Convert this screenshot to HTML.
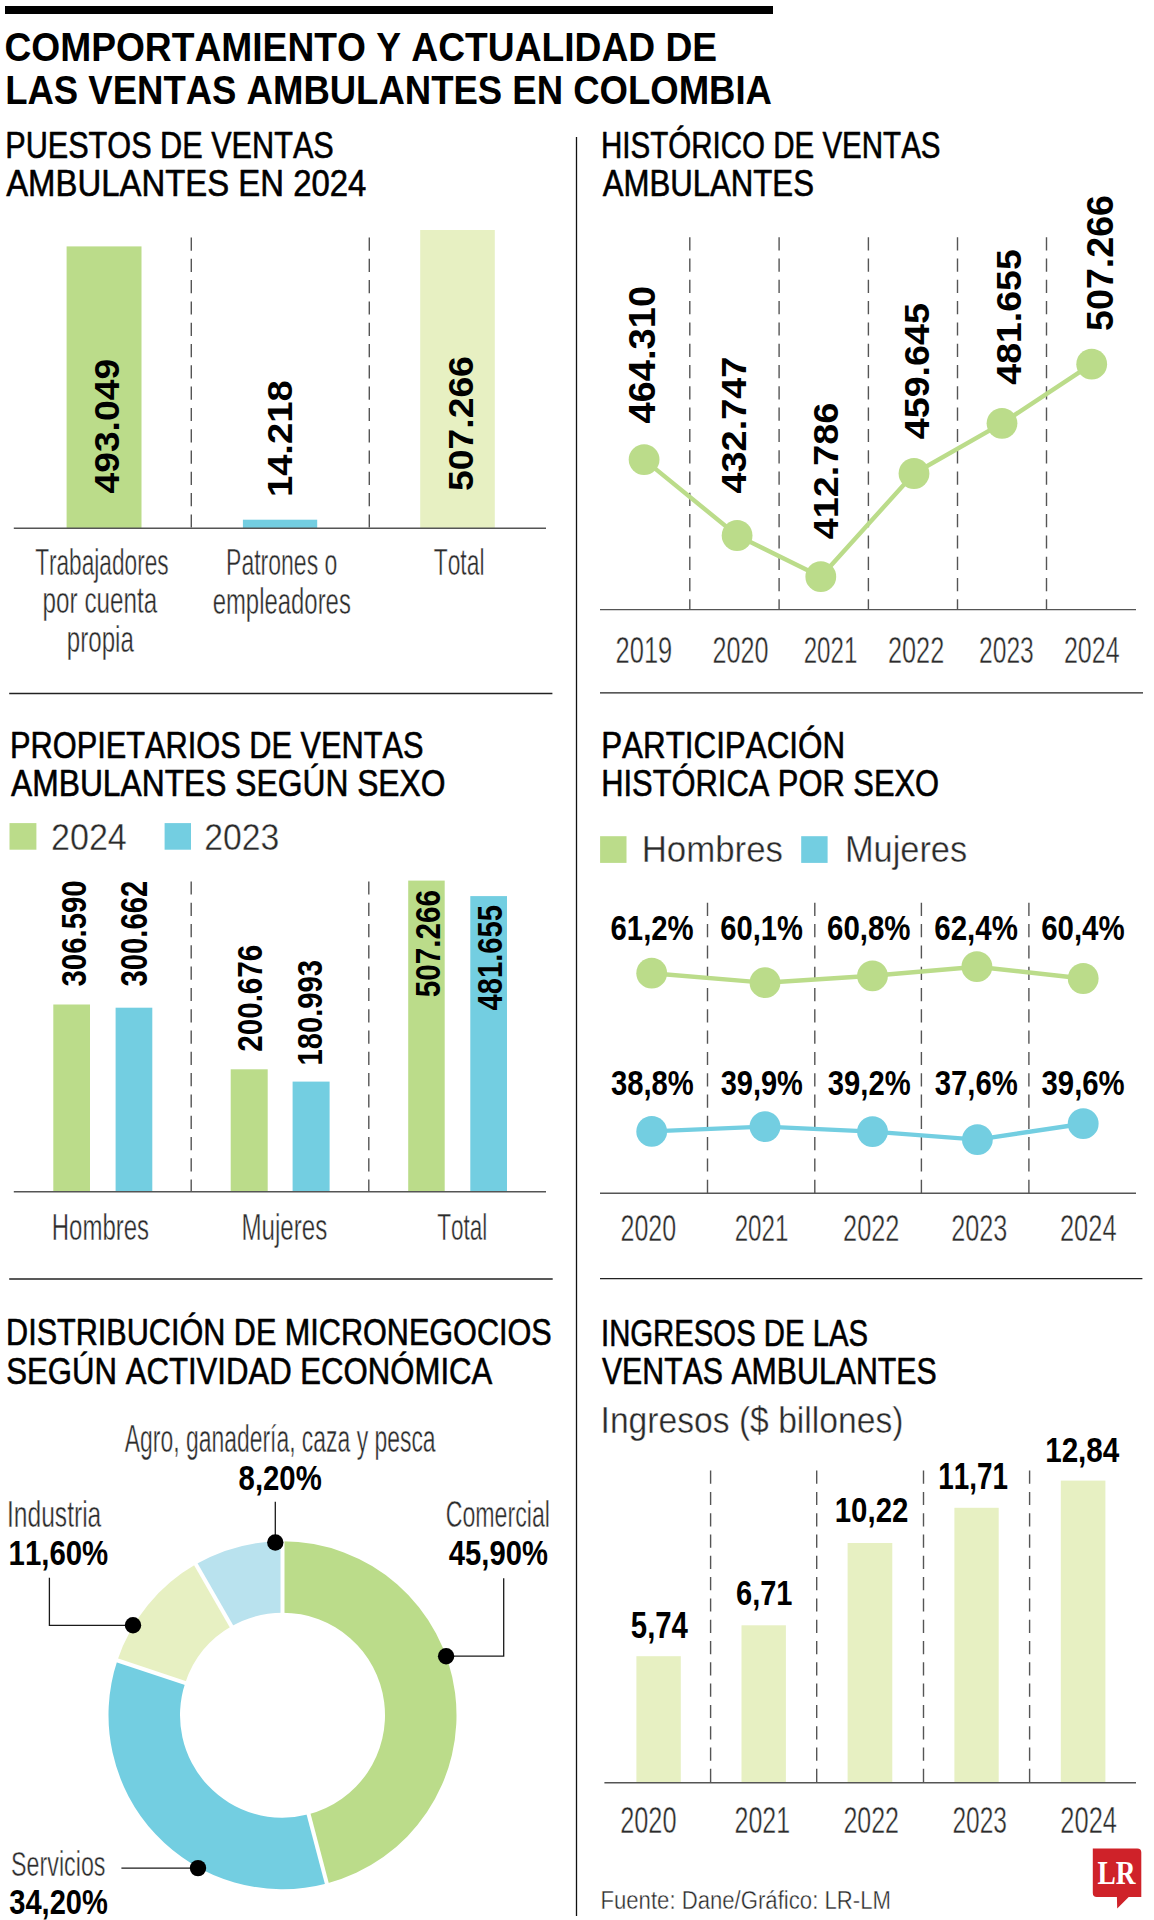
<!DOCTYPE html>
<html><head><meta charset="utf-8"><style>
html,body{margin:0;padding:0;background:#fff;width:1154px;height:1920px;overflow:hidden}
svg{display:block}
text{font-family:"Liberation Sans",sans-serif;font-kerning:none;font-variant-ligatures:none;white-space:pre}
</style></head><body>
<svg width="1154" height="1920" viewBox="0 0 1154 1920">
<rect width="1154" height="1920" fill="#fff"/>
<rect x="5" y="6" width="768.00" height="8.00" fill="#000"/>
<text x="-1.68" y="0" transform="translate(5.90,60.70) scale(0.9109,1)" font-size="40.84" font-weight="700" fill="#000">COMPORTAMIENTO Y ACTUALIDAD DE</text>
<text x="-2.76" y="0" transform="translate(7.60,103.60) scale(0.8846,1)" font-size="41.28" font-weight="700" fill="#000">LAS VENTAS AMBULANTES EN COLOMBIA</text>
<line x1="576.5" y1="137" x2="576.5" y2="1916" stroke="#111" stroke-width="1.3"/>
<text x="-2.97" y="0" transform="translate(7.71,158.20) scale(0.8471,1)" font-size="36.19" font-weight="400" fill="#000" stroke="#000" stroke-width="0.6" stroke-linejoin="round">PUESTOS DE VENTAS</text>
<text x="-0.07" y="0" transform="translate(6.21,196.40) scale(0.9093,1)" font-size="36.19" font-weight="400" fill="#000" stroke="#000" stroke-width="0.6" stroke-linejoin="round">AMBULANTES EN 2024</text>
<rect x="66.6" y="246.4" width="74.90" height="281.80" fill="#bbdc8a"/>
<rect x="242.9" y="519.7" width="74.30" height="8.50" fill="#73cee1"/>
<rect x="420.2" y="230" width="74.60" height="298.20" fill="#e7f0c2"/>
<line x1="191.3" y1="237.5" x2="191.3" y2="528" stroke="#555" stroke-width="1.4" stroke-dasharray="13.2 8.1"/>
<line x1="369.3" y1="237.5" x2="369.3" y2="528" stroke="#555" stroke-width="1.4" stroke-dasharray="13.2 8.1"/>
<line x1="13.8" y1="528.3" x2="546" y2="528.3" stroke="#555" stroke-width="1.4"/>
<text x="-0.54" y="0" transform="translate(119.10,493.00) rotate(-90) scale(1.0411,1)" font-size="35.80" font-weight="700" fill="#000">493.049</text>
<text x="-2.24" y="0" transform="translate(291.90,494.70) rotate(-90) scale(1.0750,1)" font-size="35.52" font-weight="700" fill="#000">14.218</text>
<text x="-1.08" y="0" transform="translate(472.50,489.80) rotate(-90) scale(1.0592,1)" font-size="35.23" font-weight="700" fill="#000">507.266</text>
<text x="-0.83" y="0" transform="translate(35.64,575.23) scale(0.6126,1)" font-size="37.00" font-weight="400" fill="#2b2b2b" stroke="#fff" stroke-width="0.45" stroke-linejoin="round">Trabajadores</text>
<text x="-2.38" y="0" transform="translate(44.14,613.43) scale(0.6559,1)" font-size="37.00" font-weight="400" fill="#2b2b2b" stroke="#fff" stroke-width="0.45" stroke-linejoin="round">por cuenta</text>
<text x="-2.38" y="0" transform="translate(68.34,652.02) scale(0.6521,1)" font-size="37.00" font-weight="400" fill="#2b2b2b" stroke="#fff" stroke-width="0.45" stroke-linejoin="round">propia</text>
<text x="-3.04" y="0" transform="translate(227.94,575.12) scale(0.6224,1)" font-size="37.00" font-weight="400" fill="#2b2b2b" stroke="#fff" stroke-width="0.45" stroke-linejoin="round">Patrones o</text>
<text x="-1.57" y="0" transform="translate(213.64,613.52) scale(0.6465,1)" font-size="37.00" font-weight="400" fill="#2b2b2b" stroke="#fff" stroke-width="0.45" stroke-linejoin="round">empleadores</text>
<text x="-0.83" y="0" transform="translate(434.24,575.33) scale(0.6170,1)" font-size="37.00" font-weight="400" fill="#2b2b2b" stroke="#fff" stroke-width="0.45" stroke-linejoin="round">Total</text>
<line x1="9.2" y1="693.5" x2="552.4" y2="693.5" stroke="#222" stroke-width="1.3"/>
<text x="-2.97" y="0" transform="translate(603.41,158.30) scale(0.8160,1)" font-size="36.19" font-weight="400" fill="#000" stroke="#000" stroke-width="0.6" stroke-linejoin="round">HISTÓRICO DE VENTAS</text>
<text x="-0.07" y="0" transform="translate(602.71,196.40) scale(0.8615,1)" font-size="36.19" font-weight="400" fill="#000" stroke="#000" stroke-width="0.6" stroke-linejoin="round">AMBULANTES</text>
<line x1="689.8" y1="237.2" x2="689.8" y2="609.5" stroke="#555" stroke-width="1.4" stroke-dasharray="13.2 8.1"/>
<line x1="779.1" y1="237.2" x2="779.1" y2="609.5" stroke="#555" stroke-width="1.4" stroke-dasharray="13.2 8.1"/>
<line x1="868.4" y1="237.2" x2="868.4" y2="609.5" stroke="#555" stroke-width="1.4" stroke-dasharray="13.2 8.1"/>
<line x1="957.5" y1="237.2" x2="957.5" y2="609.5" stroke="#555" stroke-width="1.4" stroke-dasharray="13.2 8.1"/>
<line x1="1046.5" y1="237.2" x2="1046.5" y2="609.5" stroke="#555" stroke-width="1.4" stroke-dasharray="13.2 8.1"/>
<line x1="600" y1="609.6" x2="1136" y2="609.6" stroke="#555" stroke-width="1.4"/>
<polyline fill="none" stroke="#bbdc8a" stroke-width="4.4" points="644.1,459.6 737.1,535.5 820.8,576.7 914,473.5 1002,423.3 1091.7,364.2"/>
<circle cx="644.1" cy="459.6" r="15.4" fill="#bbdc8a"/>
<circle cx="737.1" cy="535.5" r="15.4" fill="#bbdc8a"/>
<circle cx="820.8" cy="576.7" r="15.4" fill="#bbdc8a"/>
<circle cx="914" cy="473.5" r="15.4" fill="#bbdc8a"/>
<circle cx="1002" cy="423.3" r="15.4" fill="#bbdc8a"/>
<circle cx="1091.7" cy="364.2" r="15.4" fill="#bbdc8a"/>
<text x="-0.55" y="0" transform="translate(654.80,423.00) rotate(-90) scale(1.0475,1)" font-size="36.38" font-weight="700" fill="#000">464.310</text>
<text x="-0.54" y="0" transform="translate(745.90,493.00) rotate(-90) scale(1.0589,1)" font-size="35.80" font-weight="700" fill="#000">432.747</text>
<text x="-0.54" y="0" transform="translate(837.50,538.75) rotate(-90) scale(1.0561,1)" font-size="35.80" font-weight="700" fill="#000">412.786</text>
<text x="-0.54" y="0" transform="translate(929.00,438.75) rotate(-90) scale(1.0537,1)" font-size="35.80" font-weight="700" fill="#000">459.645</text>
<text x="-0.54" y="0" transform="translate(1020.90,384.10) rotate(-90) scale(1.0470,1)" font-size="35.80" font-weight="700" fill="#000">481.655</text>
<text x="-1.12" y="0" transform="translate(1112.90,329.80) rotate(-90) scale(1.0344,1)" font-size="36.38" font-weight="700" fill="#000">507.266</text>
<text x="-1.87" y="0" transform="translate(616.84,662.73) scale(0.6859,1)" font-size="37.16" font-weight="400" fill="#2b2b2b" stroke="#fff" stroke-width="0.45" stroke-linejoin="round">2019</text>
<text x="-1.87" y="0" transform="translate(713.84,662.73) scale(0.6769,1)" font-size="37.16" font-weight="400" fill="#2b2b2b" stroke="#fff" stroke-width="0.45" stroke-linejoin="round">2020</text>
<text x="-1.87" y="0" transform="translate(804.84,662.73) scale(0.6496,1)" font-size="37.16" font-weight="400" fill="#2b2b2b" stroke="#fff" stroke-width="0.45" stroke-linejoin="round">2021</text>
<text x="-1.87" y="0" transform="translate(889.24,662.73) scale(0.6805,1)" font-size="37.16" font-weight="400" fill="#2b2b2b" stroke="#fff" stroke-width="0.45" stroke-linejoin="round">2022</text>
<text x="-1.87" y="0" transform="translate(980.24,662.73) scale(0.6633,1)" font-size="37.16" font-weight="400" fill="#2b2b2b" stroke="#fff" stroke-width="0.45" stroke-linejoin="round">2023</text>
<text x="-1.87" y="0" transform="translate(1065.14,662.73) scale(0.6738,1)" font-size="37.16" font-weight="400" fill="#2b2b2b" stroke="#fff" stroke-width="0.45" stroke-linejoin="round">2024</text>
<line x1="600" y1="692.8" x2="1143" y2="692.8" stroke="#222" stroke-width="1.3"/>
<text x="-2.97" y="0" transform="translate(12.51,758.20) scale(0.8501,1)" font-size="36.19" font-weight="400" fill="#000" stroke="#000" stroke-width="0.6" stroke-linejoin="round">PROPIETARIOS DE VENTAS</text>
<text x="-0.07" y="0" transform="translate(11.11,796.20) scale(0.8786,1)" font-size="36.19" font-weight="400" fill="#000" stroke="#000" stroke-width="0.6" stroke-linejoin="round">AMBULANTES SEGÚN SEXO</text>
<rect x="9.5" y="823.1" width="26.90" height="26.60" fill="#bbdc8a"/>
<rect x="164.6" y="823.1" width="26.40" height="26.60" fill="#73cee1"/>
<text x="-1.89" y="0" transform="translate(52.66,849.90) scale(0.9058,1)" font-size="37.67" font-weight="400" fill="#2a2a2a" stroke="#fff" stroke-width="0.4" stroke-linejoin="round">2024</text>
<text x="-1.89" y="0" transform="translate(205.96,849.90) scale(0.8958,1)" font-size="37.67" font-weight="400" fill="#2a2a2a" stroke="#fff" stroke-width="0.4" stroke-linejoin="round">2023</text>
<rect x="53.3" y="1004.5" width="36.70" height="187.20" fill="#bbdc8a"/>
<rect x="115.6" y="1007.7" width="36.70" height="184.00" fill="#73cee1"/>
<rect x="230.7" y="1069.3" width="37.00" height="122.40" fill="#bbdc8a"/>
<rect x="292.6" y="1081.6" width="37.00" height="110.10" fill="#73cee1"/>
<rect x="408.2" y="880.6" width="36.50" height="311.10" fill="#bbdc8a"/>
<rect x="470.3" y="896.1" width="36.70" height="295.60" fill="#73cee1"/>
<line x1="191.2" y1="881.4" x2="191.2" y2="1191.5" stroke="#555" stroke-width="1.4" stroke-dasharray="13.2 8.1"/>
<line x1="368.8" y1="881.4" x2="368.8" y2="1191.5" stroke="#555" stroke-width="1.4" stroke-dasharray="13.2 8.1"/>
<line x1="13.8" y1="1191.8" x2="546" y2="1191.8" stroke="#555" stroke-width="1.4"/>
<text x="-0.82" y="0" transform="translate(86.20,985.90) rotate(-90) scale(0.8179,1)" font-size="35.95" font-weight="700" fill="#000">306.590</text>
<text x="-0.83" y="0" transform="translate(146.90,985.90) rotate(-90) scale(0.8113,1)" font-size="36.09" font-weight="700" fill="#000">300.662</text>
<text x="-1.25" y="0" transform="translate(261.60,1050.70) rotate(-90) scale(0.8234,1)" font-size="35.95" font-weight="700" fill="#000">200.676</text>
<text x="-2.26" y="0" transform="translate(322.30,1063.70) rotate(-90) scale(0.8126,1)" font-size="35.95" font-weight="700" fill="#000">180.993</text>
<text x="-1.09" y="0" transform="translate(439.80,996.30) rotate(-90) scale(0.8356,1)" font-size="35.52" font-weight="700" fill="#000">507.266</text>
<text x="-0.54" y="0" transform="translate(502.20,1010.10) rotate(-90) scale(0.8263,1)" font-size="35.37" font-weight="700" fill="#000">481.655</text>
<text x="-3.06" y="0" transform="translate(53.64,1240.02) scale(0.6444,1)" font-size="37.28" font-weight="400" fill="#2b2b2b" stroke="#fff" stroke-width="0.45" stroke-linejoin="round">Hombres</text>
<text x="-3.06" y="0" transform="translate(243.44,1240.02) scale(0.6476,1)" font-size="37.28" font-weight="400" fill="#2b2b2b" stroke="#fff" stroke-width="0.45" stroke-linejoin="round">Mujeres</text>
<text x="-0.84" y="0" transform="translate(437.74,1240.02) scale(0.6048,1)" font-size="37.28" font-weight="400" fill="#2b2b2b" stroke="#fff" stroke-width="0.45" stroke-linejoin="round">Total</text>
<line x1="9.2" y1="1279" x2="552.7" y2="1279" stroke="#222" stroke-width="1.3"/>
<text x="-2.97" y="0" transform="translate(603.71,758.20) scale(0.8667,1)" font-size="36.19" font-weight="400" fill="#000" stroke="#000" stroke-width="0.6" stroke-linejoin="round">PARTICIPACIÓN</text>
<text x="-2.97" y="0" transform="translate(603.71,796.20) scale(0.8536,1)" font-size="36.19" font-weight="400" fill="#000" stroke="#000" stroke-width="0.6" stroke-linejoin="round">HISTÓRICA POR SEXO</text>
<rect x="600.1" y="836.2" width="26.40" height="26.70" fill="#bbdc8a"/>
<rect x="801.2" y="836.2" width="26.40" height="26.70" fill="#73cee1"/>
<text x="-3.06" y="0" transform="translate(644.56,862.40) scale(0.9324,1)" font-size="37.36" font-weight="400" fill="#2a2a2a" stroke="#fff" stroke-width="0.4" stroke-linejoin="round">Hombres</text>
<text x="-3.06" y="0" transform="translate(847.76,862.40) scale(0.9201,1)" font-size="37.36" font-weight="400" fill="#2a2a2a" stroke="#fff" stroke-width="0.4" stroke-linejoin="round">Mujeres</text>
<line x1="707.5" y1="902.8" x2="707.5" y2="1193" stroke="#555" stroke-width="1.4" stroke-dasharray="13.2 8.1"/>
<line x1="814.8" y1="902.8" x2="814.8" y2="1193" stroke="#555" stroke-width="1.4" stroke-dasharray="13.2 8.1"/>
<line x1="921.4" y1="902.8" x2="921.4" y2="1193" stroke="#555" stroke-width="1.4" stroke-dasharray="13.2 8.1"/>
<line x1="1028.9" y1="902.8" x2="1028.9" y2="1193" stroke="#555" stroke-width="1.4" stroke-dasharray="13.2 8.1"/>
<line x1="600" y1="1193.3" x2="1136" y2="1193.3" stroke="#555" stroke-width="1.4"/>
<polyline fill="none" stroke="#bbdc8a" stroke-width="4.4" points="651.7,973.2 765,982.7 872.5,975.8 976.9,966.7 1083.2,978.5"/>
<circle cx="651.7" cy="973.2" r="15.4" fill="#bbdc8a"/>
<circle cx="765" cy="982.7" r="15.4" fill="#bbdc8a"/>
<circle cx="872.5" cy="975.8" r="15.4" fill="#bbdc8a"/>
<circle cx="976.9" cy="966.7" r="15.4" fill="#bbdc8a"/>
<circle cx="1083.2" cy="978.5" r="15.4" fill="#bbdc8a"/>
<polyline fill="none" stroke="#73cee1" stroke-width="4.4" points="651.7,1131.4 765,1126.6 872.5,1131.6 977.4,1139.6 1083.2,1123.7"/>
<circle cx="651.7" cy="1131.4" r="15.4" fill="#73cee1"/>
<circle cx="765" cy="1126.6" r="15.4" fill="#73cee1"/>
<circle cx="872.5" cy="1131.6" r="15.4" fill="#73cee1"/>
<circle cx="977.4" cy="1139.6" r="15.4" fill="#73cee1"/>
<circle cx="1083.2" cy="1123.7" r="15.4" fill="#73cee1"/>
<text x="-1.31" y="0" transform="translate(611.60,940.10) scale(0.8190,1)" font-size="35.80" font-weight="700" fill="#000">61,2%</text>
<text x="-1.31" y="0" transform="translate(721.30,940.10) scale(0.8140,1)" font-size="35.80" font-weight="700" fill="#000">60,1%</text>
<text x="-1.31" y="0" transform="translate(828.10,940.10) scale(0.8230,1)" font-size="35.80" font-weight="700" fill="#000">60,8%</text>
<text x="-1.31" y="0" transform="translate(935.40,940.10) scale(0.8230,1)" font-size="35.80" font-weight="700" fill="#000">62,4%</text>
<text x="-1.31" y="0" transform="translate(1042.20,940.10) scale(0.8230,1)" font-size="35.80" font-weight="700" fill="#000">60,4%</text>
<text x="-0.82" y="0" transform="translate(611.60,1094.60) scale(0.8117,1)" font-size="35.95" font-weight="700" fill="#000">38,8%</text>
<text x="-0.82" y="0" transform="translate(721.30,1094.60) scale(0.8068,1)" font-size="35.95" font-weight="700" fill="#000">39,9%</text>
<text x="-0.82" y="0" transform="translate(828.50,1094.60) scale(0.8117,1)" font-size="35.95" font-weight="700" fill="#000">39,2%</text>
<text x="-0.82" y="0" transform="translate(935.40,1094.60) scale(0.8157,1)" font-size="35.95" font-weight="700" fill="#000">37,6%</text>
<text x="-0.82" y="0" transform="translate(1042.20,1094.60) scale(0.8157,1)" font-size="35.95" font-weight="700" fill="#000">39,6%</text>
<text x="-1.87" y="0" transform="translate(621.74,1240.52) scale(0.6731,1)" font-size="37.16" font-weight="400" fill="#2b2b2b" stroke="#fff" stroke-width="0.45" stroke-linejoin="round">2020</text>
<text x="-1.87" y="0" transform="translate(735.84,1240.52) scale(0.6496,1)" font-size="37.16" font-weight="400" fill="#2b2b2b" stroke="#fff" stroke-width="0.45" stroke-linejoin="round">2021</text>
<text x="-1.87" y="0" transform="translate(844.34,1240.52) scale(0.6805,1)" font-size="37.16" font-weight="400" fill="#2b2b2b" stroke="#fff" stroke-width="0.45" stroke-linejoin="round">2022</text>
<text x="-1.87" y="0" transform="translate(952.54,1240.52) scale(0.6784,1)" font-size="37.16" font-weight="400" fill="#2b2b2b" stroke="#fff" stroke-width="0.45" stroke-linejoin="round">2023</text>
<text x="-1.87" y="0" transform="translate(1061.24,1240.52) scale(0.6851,1)" font-size="37.16" font-weight="400" fill="#2b2b2b" stroke="#fff" stroke-width="0.45" stroke-linejoin="round">2024</text>
<line x1="600" y1="1278.6" x2="1142.4" y2="1278.6" stroke="#222" stroke-width="1.3"/>
<text x="-2.97" y="0" transform="translate(8.61,1345.40) scale(0.8456,1)" font-size="36.19" font-weight="400" fill="#000" stroke="#000" stroke-width="0.6" stroke-linejoin="round">DISTRIBUCIÓN DE MICRONEGOCIOS</text>
<text x="-1.64" y="0" transform="translate(7.71,1384.10) scale(0.8602,1)" font-size="36.19" font-weight="400" fill="#000" stroke="#000" stroke-width="0.6" stroke-linejoin="round">SEGÚN ACTIVIDAD ECONÓMICA</text>
<path d="M282.50,1541.20 A174,174 0 0 1 326.83,1883.46 L308.61,1814.32 A102.5,102.5 0 0 0 282.50,1612.70Z" fill="#bbdc8a"/>
<path d="M326.83,1883.46 A174,174 0 0 1 117.36,1660.39 L185.22,1682.91 A102.5,102.5 0 0 0 308.61,1814.32Z" fill="#73cee1"/>
<path d="M117.36,1660.39 A174,174 0 0 1 195.82,1564.33 L231.44,1626.33 A102.5,102.5 0 0 0 185.22,1682.91Z" fill="#e7f0c2"/>
<path d="M195.82,1564.33 A174,174 0 0 1 282.50,1541.20 L282.50,1612.70 A102.5,102.5 0 0 0 231.44,1626.33Z" fill="#b9e2ee"/>
<line x1="282.5" y1="1614.7" x2="282.5" y2="1539.2" stroke="#fff" stroke-width="4"/>
<line x1="308.1044579311799" y1="1812.3836495201247" x2="327.33964772027525" y2="1885.3922618461886" stroke="#fff" stroke-width="4"/>
<line x1="187.1158374284754" y1="1683.5438547746419" x2="115.45907848170816" y2="1659.7623725406663" stroke="#fff" stroke-width="4"/>
<line x1="232.43239691338118" y1="1628.0593945329688" x2="194.81942146024966" y2="1562.5955565950499" stroke="#fff" stroke-width="4"/>
<polyline fill="none" stroke="#1a1a1a" stroke-width="1.3" points="275.3,1501.7 275.3,1542.5"/>
<polyline fill="none" stroke="#1a1a1a" stroke-width="1.3" points="49.4,1577.7 49.4,1625.3 133,1625.3"/>
<polyline fill="none" stroke="#1a1a1a" stroke-width="1.3" points="446.1,1656.2 503.7,1656.2 503.7,1578.2"/>
<polyline fill="none" stroke="#1a1a1a" stroke-width="1.3" points="121.4,1868.1 198,1868.1"/>
<circle cx="275.3" cy="1542.5" r="8.2" fill="#000"/>
<circle cx="133" cy="1625.3" r="8.2" fill="#000"/>
<circle cx="446.1" cy="1656.2" r="8.2" fill="#000"/>
<circle cx="198" cy="1868.1" r="8.2" fill="#000"/>
<text x="-0.07" y="0" transform="translate(124.84,1451.92) scale(0.6055,1)" font-size="37.86" font-weight="400" fill="#2b2b2b" stroke="#fff" stroke-width="0.45" stroke-linejoin="round">Agro, ganadería, caza y pesca</text>
<text x="-1.14" y="0" transform="translate(239.50,1490.10) scale(0.8163,1)" font-size="35.95" font-weight="700" fill="#000">8,20%</text>
<text x="-3.49" y="0" transform="translate(9.24,1526.92) scale(0.6499,1)" font-size="37.86" font-weight="400" fill="#2b2b2b" stroke="#fff" stroke-width="0.45" stroke-linejoin="round">Industria</text>
<text x="-2.26" y="0" transform="translate(10.40,1564.90) scale(0.8180,1)" font-size="35.95" font-weight="700" fill="#000">11,60%</text>
<text x="-1.89" y="0" transform="translate(446.84,1526.62) scale(0.6242,1)" font-size="37.14" font-weight="400" fill="#2b2b2b" stroke="#fff" stroke-width="0.45" stroke-linejoin="round">Comercial</text>
<text x="-0.54" y="0" transform="translate(449.20,1564.70) scale(0.8129,1)" font-size="35.95" font-weight="700" fill="#000">45,90%</text>
<text x="-1.63" y="0" transform="translate(12.14,1876.12) scale(0.6499,1)" font-size="35.81" font-weight="400" fill="#2b2b2b" stroke="#fff" stroke-width="0.45" stroke-linejoin="round">Servicios</text>
<text x="-0.82" y="0" transform="translate(9.90,1914.00) scale(0.8090,1)" font-size="35.95" font-weight="700" fill="#000">34,20%</text>
<text x="-3.34" y="0" transform="translate(603.71,1345.60) scale(0.8099,1)" font-size="36.19" font-weight="400" fill="#000" stroke="#000" stroke-width="0.6" stroke-linejoin="round">INGRESOS DE LAS</text>
<text x="-0.16" y="0" transform="translate(602.01,1383.70) scale(0.8368,1)" font-size="36.19" font-weight="400" fill="#000" stroke="#000" stroke-width="0.6" stroke-linejoin="round">VENTAS AMBULANTES</text>
<text x="-3.47" y="0" transform="translate(603.66,1432.90) scale(0.8938,1)" font-size="37.65" font-weight="400" fill="#2a2a2a" stroke="#fff" stroke-width="0.4" stroke-linejoin="round">Ingresos ($ billones)</text>
<line x1="710.6" y1="1470.6" x2="710.6" y2="1782.5" stroke="#555" stroke-width="1.4" stroke-dasharray="13.2 8.1"/>
<line x1="816.7" y1="1470.6" x2="816.7" y2="1782.5" stroke="#555" stroke-width="1.4" stroke-dasharray="13.2 8.1"/>
<line x1="923.5" y1="1470.6" x2="923.5" y2="1782.5" stroke="#555" stroke-width="1.4" stroke-dasharray="13.2 8.1"/>
<line x1="1029.6" y1="1470.6" x2="1029.6" y2="1782.5" stroke="#555" stroke-width="1.4" stroke-dasharray="13.2 8.1"/>
<rect x="636.4" y="1656.2" width="44.40" height="126.40" fill="#e7f0c2"/>
<rect x="741.5" y="1625.3" width="44.40" height="157.30" fill="#e7f0c2"/>
<rect x="847.6" y="1543" width="44.70" height="239.60" fill="#e7f0c2"/>
<rect x="954.4" y="1507.8" width="44.30" height="274.80" fill="#e7f0c2"/>
<rect x="1060.8" y="1480.6" width="44.60" height="302.00" fill="#e7f0c2"/>
<line x1="604.4" y1="1782.7" x2="1136" y2="1782.7" stroke="#555" stroke-width="1.4"/>
<text x="-1.12" y="0" transform="translate(631.70,1638.20) scale(0.8050,1)" font-size="36.48" font-weight="700" fill="#000">5,74</text>
<text x="-1.32" y="0" transform="translate(737.10,1604.60) scale(0.8071,1)" font-size="35.95" font-weight="700" fill="#000">6,71</text>
<text x="-2.26" y="0" transform="translate(836.60,1522.00) scale(0.8185,1)" font-size="35.95" font-weight="700" fill="#000">10,22</text>
<text x="-2.30" y="0" transform="translate(940.10,1488.60) scale(0.7638,1)" font-size="36.48" font-weight="700" fill="#000">11,71</text>
<text x="-2.26" y="0" transform="translate(1047.00,1461.70) scale(0.8252,1)" font-size="35.95" font-weight="700" fill="#000">12,84</text>
<text x="-1.83" y="0" transform="translate(621.44,1833.22) scale(0.6953,1)" font-size="36.45" font-weight="400" fill="#2b2b2b" stroke="#fff" stroke-width="0.45" stroke-linejoin="round">2020</text>
<text x="-1.83" y="0" transform="translate(735.74,1833.22) scale(0.6856,1)" font-size="36.45" font-weight="400" fill="#2b2b2b" stroke="#fff" stroke-width="0.45" stroke-linejoin="round">2021</text>
<text x="-1.83" y="0" transform="translate(844.64,1833.22) scale(0.6861,1)" font-size="36.45" font-weight="400" fill="#2b2b2b" stroke="#fff" stroke-width="0.45" stroke-linejoin="round">2022</text>
<text x="-1.83" y="0" transform="translate(953.64,1833.22) scale(0.6724,1)" font-size="36.45" font-weight="400" fill="#2b2b2b" stroke="#fff" stroke-width="0.45" stroke-linejoin="round">2023</text>
<text x="-1.83" y="0" transform="translate(1061.64,1833.22) scale(0.6986,1)" font-size="36.45" font-weight="400" fill="#2b2b2b" stroke="#fff" stroke-width="0.45" stroke-linejoin="round">2024</text>
<text x="-2.09" y="0" transform="translate(602.26,1909.10) scale(0.8707,1)" font-size="25.44" font-weight="400" fill="#2a2a2a" stroke="#fff" stroke-width="0.4" stroke-linejoin="round">Fuente: Dane/Gráfico: LR-LM</text>
<path d="M1092.8,1848.5 H1137.3 Q1141.3,1848.5 1141.3,1852.5 V1896.9 H1128.7 L1117.2,1908.4 L1116.9,1896.9 H1096.8 Q1092.8,1896.9 1092.8,1892.9 Z" fill="#cf2229"/>
<text x="-0.58" y="0" transform="translate(1098.00,1883.70) scale(0.8002,1)" font-size="34.21" font-weight="700" font-family="Liberation Serif" style="font-family:&quot;Liberation Serif&quot;,serif" fill="#fff">LR</text>
</svg>
</body></html>
